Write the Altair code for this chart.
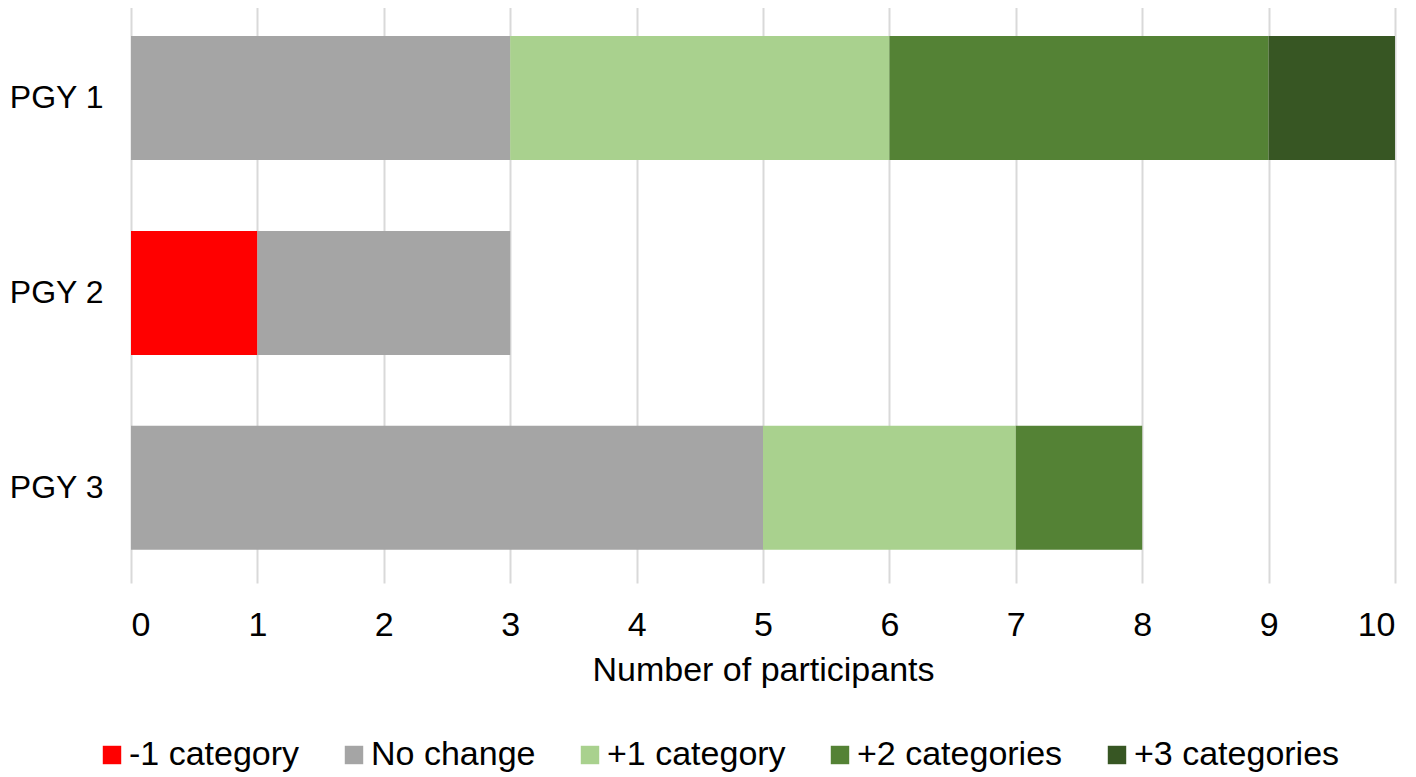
import altair as alt
import pandas as pd

groups = ["PGY 1", "PGY 2", "PGY 3"]
categories = ["-1 category", "No change", "+1 category", "+2 categories", "+3 categories"]
colors = ["#FF0000", "#A5A5A5", "#A9D18E", "#548235", "#375623"]
pgy1 = [0, 3, 3, 3, 1]
pgy2 = [1, 2, 0, 0, 0]
pgy3 = [0, 5, 2, 1, 0]

rows = []
for g, vals in zip(groups, [pgy1, pgy2, pgy3]):
    for i, (c, v) in enumerate(zip(categories, vals)):
        if v > 0:
            rows.append({"group": g, "category": c, "count": v, "ord": i})
df = pd.DataFrame(rows)

FONT = "Liberation Sans"
FS = 34

chart = alt.Chart(df).mark_bar(size=124).encode(
    x=alt.X("count:Q", stack="zero",
            scale=alt.Scale(domain=[0, 10], nice=False),
            axis=alt.Axis(title="Number of participants", values=list(range(11)),
                          grid=True, gridColor="#D9D9D9", gridWidth=2,
                          domain=False, ticks=False, labelPadding=25,
                          labelFontSize=FS, titleFontSize=FS, titleFontWeight="normal",
                          labelColor="#000000", titleColor="#000000", titlePadding=11,
                          labelFont=FONT, titleFont=FONT)),
    y=alt.Y("group:N", sort=groups,
            scale=alt.Scale(paddingInner=0.364, paddingOuter=0.177, align=0.52),
            axis=alt.Axis(title=None, domain=False, ticks=False, labelPadding=28,
                          labelFontSize=32, labelColor="#000000", labelFont=FONT,
                          labelLimit=0)),
    color=alt.Color("category:N",
                    scale=alt.Scale(domain=categories, range=colors),
                    legend=alt.Legend(title=None, orient="none", direction="horizontal",
                                      legendX=-36, legendY=738,
                                      symbolType="square", symbolSize=340,
                                      symbolStrokeWidth=0, labelFontSize=FS,
                                      labelFont=FONT, labelColor="#000000",
                                      labelLimit=0,
                                      columnPadding=37, labelOffset=0)),
    order=alt.Order("ord:Q"),
).properties(
    width=1264, height=583,
    autosize=alt.AutoSizeParams(type="none"),
    padding={"left": 123, "top": -8, "right": 13, "bottom": 190},
).configure_view(stroke=None)

chart.save("out.html", embed_options={"renderer": "svg", "actions": False})
